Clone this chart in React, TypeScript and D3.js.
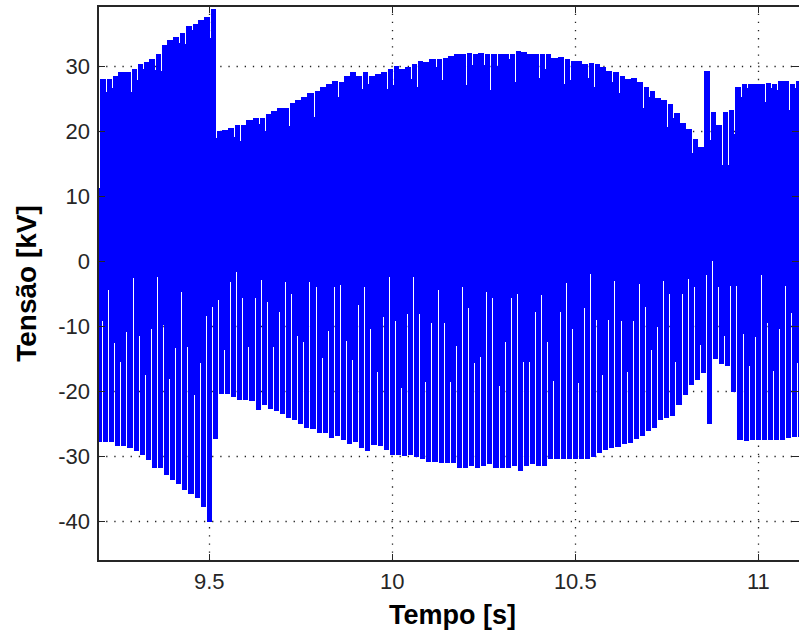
import React from "react";
import * as d3 from "d3";

const W = 799;
const H = 639;
const plotLeft = 98;
const plotRight = 799;
const plotTop = 6;
const plotBottom = 561;

const xDomain = [9.1959, 11.1112];
const yDomain = [-46.15, 39.23];
const xTicks = [9.5, 10, 10.5, 11];
const xTickLabels = ["9.5", "10", "10.5", "11"];
const yTicks = [-40, -30, -20, -10, 0, 10, 20, 30];
const yTickLabels = ["-40", "-30", "-20", "-10", "0", "10", "20", "30"];
const xLabel = "Tempo [s]";
const yLabel = "Tensão [kV]";

// 60 Hz cycles: start time of the first cycle, cycle length
const firstCycle = 9.2014;
const cycleLength = 1 / 60;
const lowerPhase = 0.0055; // negative half-wave lags the positive one
const startLevel = 11.2;
const lowerPre = -27.9;

// positive peak of each cycle [kV]
const upperPeak = [
  28.0, 28.0, 28.5, 29.0, 29.0, 29.5, 30.3, 30.6, 31.0, 31.8,
  33.3, 34.0, 34.5, 35.0, 36.2, 36.5, 37.0, 37.5, 38.7, 20.0,
  20.2, 20.4, 21.0, 21.0, 21.7, 22.0, 22.0, 22.6, 23.1, 23.5,
  23.5, 24.3, 24.8, 25.2, 25.9, 26.2, 26.7, 27.2, 27.7, 27.5,
  28.5, 29.0, 28.5, 29.0, 28.5, 28.8, 29.0, 29.5, 30.0, 29.5,
  29.8, 30.3, 30.8, 30.6, 31.0, 31.0, 31.3, 31.5, 31.8, 31.8,
  32.0, 31.8, 32.0, 31.8, 31.8, 31.8, 31.8, 31.8, 32.3, 32.2,
  31.8, 31.8, 31.8, 31.8, 31.2, 31.4, 31.0, 30.8, 30.8, 30.3,
  30.5, 30.3, 29.8, 29.3, 29.0, 28.5, 28.0, 28.2, 27.5, 26.7,
  26.2, 25.0, 24.7, 24.2, 22.7, 21.3, 20.3, 18.7, 17.6, 29.3,
  23.0, 21.0, 23.0, 23.2, 26.7, 27.2, 27.2, 27.2, 27.3, 27.4,
  27.2, 27.7, 27.7, 27.2, 27.7,
];

// negative peak of each cycle [kV]
const lowerPeak = [
  -27.9, -27.9, -28.5, -28.5, -28.8, -29.3, -29.8, -30.6, -31.9, -31.9,
  -32.9, -33.7, -34.3, -35.3, -35.8, -36.5, -37.9, -40.1, -27.4, -20.4,
  -20.4, -20.9, -21.4, -21.4, -21.6, -22.9, -22.2, -22.8, -23.1, -23.5,
  -24.1, -24.4, -25.0, -25.7, -25.9, -26.4, -26.5, -27.3, -26.9, -27.6,
  -28.1, -27.9, -28.8, -29.3, -28.3, -28.5, -29.1, -29.8, -29.8, -30.0,
  -29.8, -30.1, -30.5, -30.9, -30.9, -31.1, -31.1, -31.0, -31.9, -31.8,
  -31.6, -31.8, -31.6, -31.3, -31.9, -31.9, -31.9, -31.6, -32.3, -31.6,
  -31.3, -31.6, -31.5, -30.5, -30.5, -30.5, -30.5, -30.4, -30.4, -30.4,
  -30.1, -29.5, -29.0, -28.7, -28.6, -28.2, -28.0, -27.4, -26.9, -26.1,
  -25.7, -24.5, -24.2, -23.8, -22.2, -20.6, -19.1, -18.3, -17.3, -25.1,
  -15.0, -15.8, -16.1, -20.1, -27.5, -27.7, -27.5, -27.5, -27.5, -27.5,
  -27.5, -27.5, -27.3, -27.1, -27.1,
];

// lowest value reached by the short notch at the start of each positive half-wave (null: none)
const upperDip = [
  null, 26.0, 26.6, null, null, 26.0, 27.8, 29.5, null, 29.4,
  29.3, null, null, 33.6, 33.4, 35.5, null, null, 34.3, 18.9,
  null, null, 19.1, 18.4, null, null, 21.1, 20.0, null, null,
  null, 20.8, null, null, null, 22.1, null, null, null, 25.3,
  null, null, null, 26.5, 27.3, null, null, 26.4, 27.1, null,
  null, 28.0, 26.8, null, null, 29.9, 27.8, null, null, null,
  27.1, 30.2, null, 30.2, 26.3, 30.0, null, 31.0, 27.6, null,
  null, null, 28.2, 29.5, null, null, 27.3, 27.8, null, null,
  28.1, 26.7, null, null, 27.6, 25.8, null, null, null, 23.5,
  25.3, null, null, 20.6, 22.0, null, null, 16.6, null, null,
  18.6, null, 14.8, 14.8, 19.5, 25.3, 26.6, null, null, 24.5,
  26.6, 26.3, null, 23.3, 26.6,
];

// level where the signal leaves the negative region at each zero crossing [kV]
const lowerGapTop = [
  -9.2, -4.5, -12.6, -15.5, -10.9, -2.6, -11.6, -17.5, -10.5, -2.4,
  -9.9, -18.2, -13.4, -4.7, -13.2, -20.6, -15.7, -8.5, -7.0, -6.0,
  -13.7, -3.2, -1.7, -5.7, -13.2, -5.7, -2.9, -6.3, -13.2, -7.8,
  -3.2, -5.0, -11.6, -12.4, -3.2, -4.0, -14.9, -10.7, -4.0, -3.7,
  -12.3, -15.2, -6.8, -4.0, -10.5, -17.0, -8.6, -2.4, -9.3, -19.6,
  -8.2, -2.4, -8.2, -18.6, -9.5, -4.5, -9.5, -18.6, -13.0, -4.0,
  -7.3, -15.7, -14.7, -4.7, -5.7, -19.2, -12.4, -5.7, -5.0, -15.5,
  -15.5, -7.8, -5.2, -12.4, -18.4, -7.8, -3.4, -10.5, -18.7, -7.3,
  -2.0, -9.0, -17.5, -9.0, -3.0, -9.2, -17.0, -9.2, -3.5, -7.0,
  -13.7, -10.1, -3.0, -5.0, -15.5, -5.0, -2.7, -4.0, -12.9, -2.2,
  0.0, -4.0, -11.6, -3.8, -3.8, -11.2, -16.2, -11.7, -2.2, -9.5,
  -16.9, -10.5, -3.8, -8.0, -15.7,
];

const BLUE = "#0000ff";
const FONT = "'Liberation Sans', Arial, Helvetica, sans-serif";

export default function App() {
  const x = d3.scaleLinear().domain(xDomain).range([plotLeft, plotRight]);
  const y = d3.scaleLinear().domain(yDomain).range([plotBottom, plotTop]);
  const px = (t: number) => Math.round(x(t));
  const py = (v: number) => Math.round(y(v));

  const rects: { x: number; y: number; w: number; h: number }[] = [];
  const add = (x0: number, x1: number, v0: number, v1: number) => {
    const ya = py(Math.max(v0, v1));
    const yb = py(Math.min(v0, v1));
    if (x1 > x0 && yb > ya) rects.push({ x: x0, y: ya, w: x1 - x0, h: yb - ya });
  };

  const n = upperPeak.length;
  const t = (k: number) => firstCycle + k * cycleLength;

  // lead-in
  add(px(t(0)) - 1, px(t(0)), startLevel, 0);
  add(px(t(0)) - 1, px(t(0) + lowerPhase), 0, lowerPre);

  for (let k = 0; k < n; k++) {
    const X0 = px(t(k));
    const X1 = px(t(k + 1));
    const dip = upperDip[k];
    if (dip !== null) {
      add(X0, X0 + 1, dip, 0);
      add(X0 + 1, X1, upperPeak[k], 0);
    } else {
      add(X0, X1, upperPeak[k], 0);
    }
    const G0 = px(t(k) + lowerPhase);
    const G1 = px(t(k + 1) + lowerPhase);
    add(G0, G0 + 1, 0, lowerGapTop[k]);
    add(G0 + 1, G1, 0, lowerPeak[k]);
  }

  const gridStyle = {
    stroke: "#222",
    strokeWidth: 1.3,
    strokeDasharray: "1.3 6.85",
  };
  const tickLen = 7;

  return (
    <svg width={W} height={H} style={{ display: "block", position: "absolute", left: 0, top: 0 }}>
      <defs>
        <clipPath id="plotClip">
          <rect x={plotLeft} y={plotTop} width={plotRight - plotLeft} height={plotBottom - plotTop} />
        </clipPath>
      </defs>
      <rect x={0} y={0} width={W} height={H} fill="#fff" />
      {/* grid */}
      <g>
        {xTicks.map((v) => (
          <line key={"gx" + v} x1={px(v) + 0.5} x2={px(v) + 0.5} y1={plotBottom} y2={plotTop} style={gridStyle} />
        ))}
        {yTicks.map((v) => (
          <line key={"gy" + v} x1={plotLeft} x2={plotRight} y1={py(v) + 0.5} y2={py(v) + 0.5} style={gridStyle} />
        ))}
      </g>
      {/* signal */}
      <g clipPath="url(#plotClip)" shapeRendering="crispEdges" fill={BLUE}>
        {rects.map((r, i) => (
          <rect key={i} x={r.x} y={r.y} width={r.w} height={r.h} />
        ))}
      </g>
      {/* axes box and ticks */}
      <g stroke="#262626" strokeWidth={1.2} fill="none" shapeRendering="crispEdges">
        <rect x={plotLeft} y={plotTop} width={plotRight - plotLeft + 2} height={plotBottom - plotTop} />
        {xTicks.map((v) => (
          <g key={"tx" + v}>
            <line x1={px(v) + 0.5} x2={px(v) + 0.5} y1={plotBottom} y2={plotBottom - tickLen} />
            <line x1={px(v) + 0.5} x2={px(v) + 0.5} y1={plotTop} y2={plotTop + tickLen} />
          </g>
        ))}
        {yTicks.map((v) => (
          <g key={"ty" + v}>
            <line x1={plotLeft} x2={plotLeft + tickLen} y1={py(v) + 0.5} y2={py(v) + 0.5} />
            <line x1={plotRight - tickLen} x2={plotRight} y1={py(v) + 0.5} y2={py(v) + 0.5} />
          </g>
        ))}
      </g>
      {/* tick labels */}
      <g fontFamily={FONT} fontSize={22} fill="#262626">
        {xTicks.map((v, i) => (
          <text key={"lx" + v} x={x(v)} y={589} textAnchor="middle">
            {xTickLabels[i]}
          </text>
        ))}
        {yTicks.map((v, i) => (
          <text key={"ly" + v} x={90} y={y(v) + 8} textAnchor="end">
            {yTickLabels[i]}
          </text>
        ))}
      </g>
      {/* axis labels */}
      <text
        x={(plotLeft + plotRight) / 2 + 4}
        y={624}
        textAnchor="middle"
        fontFamily={FONT}
        fontWeight="bold"
        fontSize={27}
        fill="#000"
      >
        {xLabel}
      </text>
      <text
        transform={`translate(36, ${(plotTop + plotBottom) / 2}) rotate(-90)`}
        textAnchor="middle"
        fontFamily={FONT}
        fontWeight="bold"
        fontSize={28}
        fill="#000"
      >
        {yLabel}
      </text>
    </svg>
  );
}
